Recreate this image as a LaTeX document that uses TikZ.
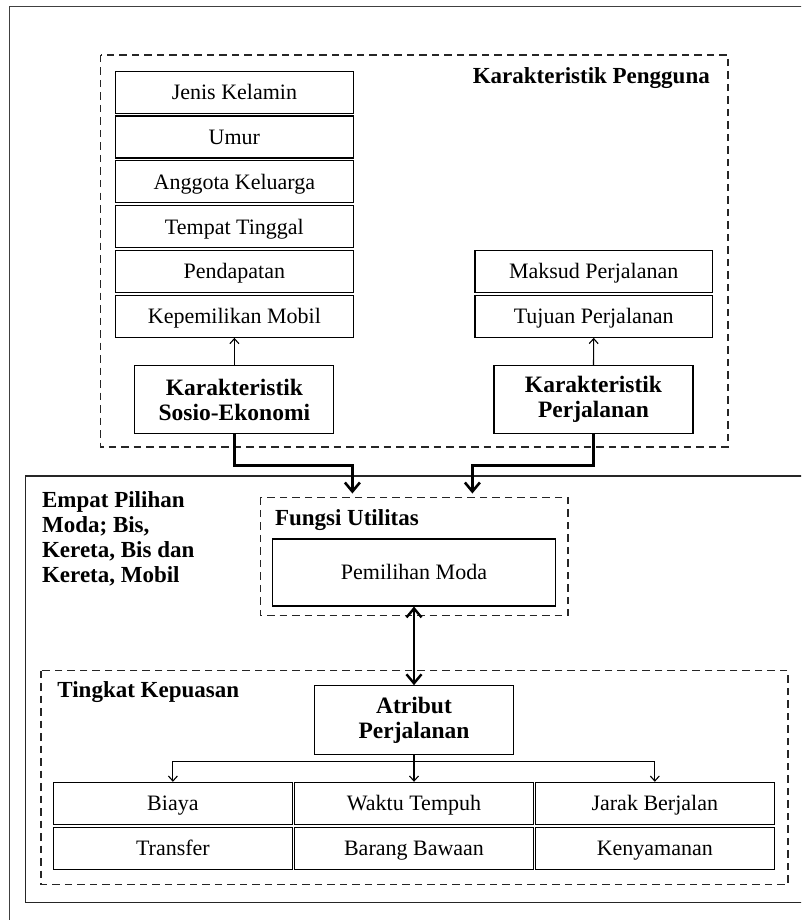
\documentclass[tikz,border=0pt]{standalone}
\usepackage{fontspec}
\setmainfont{Liberation Serif}
\usetikzlibrary{arrows.meta,calc}
\begin{document}
\begin{tikzpicture}[x=1pt,y=-1pt,
  box/.style={draw=black,line width=1.1pt,fill=white,inner sep=0pt,align=center,font=\fontsize{22}{25}\selectfont},
  bbox/.style={box,font=\fontsize{23.5}{25}\selectfont\bfseries},
  one/.style={text height=16pt,text depth=1.4pt},
  lstack/.style={box,one,minimum width=238pt,minimum height=42pt},
  cell/.style={box,one,minimum width=238.5pt,minimum height=41.7pt},
  dbox/.style={draw=black!85,line width=1.4pt,dash pattern=on 7.5pt off 5pt},
  frame/.style={draw=black!75,line width=1.2pt},
  lbl/.style={font=\fontsize{23}{25}\selectfont\bfseries,inner sep=0pt},
  thinarr/.style={line width=1.1pt,-{Straight Barb[length=5pt,width=9pt]}},
  thickarr/.style={line width=2.6pt,-{Straight Barb[length=9pt,width=15pt]}},
  dblarr/.style={line width=2.4pt,{Straight Barb[length=9pt,width=15pt]}-{Straight Barb[length=9pt,width=15pt]}}
]
\useasboundingbox (0,0) rectangle (801,920);
\begin{scope}
\clip (0,0) rectangle (801,920);
% outer frame and lower solid box
\draw[frame] (9.2,6.7) rectangle (820,940);
\draw[frame,draw=black!85] (25.5,476) rectangle (815,902.3);
\end{scope}

% top dashed container
\draw[dbox] (100.6,55) rectangle (727.8,447);
\node[lbl,anchor=east] (kp) at (710,78) {Karakteristik Pengguna};

% left stack
\node[lstack] (jk) at (234.4,92.2) {Jenis Kelamin};
\node[lstack] (um) at (234.4,137) {Umur};
\node[lstack] (ak) at (234.4,181.9) {Anggota Keluarga};
\node[lstack] (tt) at (234.4,226.9) {Tempat Tinggal};
\node[lstack] (pd) at (234.4,271.5) {Pendapatan};
\node[lstack] (km) at (234.4,316.3) {Kepemilikan Mobil};

% right stack
\node[lstack,minimum width=237.5pt] (mp) at (593.7,271.5) {Maksud Perjalanan};
\node[lstack,minimum width=237.5pt] (tp) at (593.7,316.3) {Tujuan Perjalanan};

% characteristic boxes
\node[bbox,minimum width=199pt,minimum height=67.6pt] (se) at (234.4,399.5) {Karakteristik\\Sosio-Ekonomi};
\node[bbox,minimum width=199pt,minimum height=67.6pt] (kj) at (593.5,399.5) {Karakteristik\\Perjalanan};

\draw[thinarr] (se.north) -- (km.south);
\draw[thinarr] (kj.north) -- (tp.south);

% Fungsi Utilitas
\draw[dbox] (260.5,497.3) rectangle (568,615.7);
\node[lbl,anchor=west] (fu) at (274.8,520) {Fungsi Utilitas};
\node[box,one,minimum width=283.5pt,minimum height=67pt] (pm) at (414,572.5) {Pemilihan Moda};

\coordinate (inL) at (352.4,493.5);
\coordinate (inR) at (472.4,493.5);
\draw[thickarr] (se.south) -- ++(0,31.7) -| (inL);
\draw[thickarr] (kj.south) -- ++(0,31.7) -| (inR);

% Empat pilihan label
\node[lbl,anchor=north west,align=left] (emp) at (41.9,491) {Empat Pilihan\\Moda; Bis,\\Kereta, Bis dan\\Kereta, Mobil};

% Tingkat Kepuasan
\draw[dbox] (40.9,670.7) rectangle (788,884.3);
\node[lbl,anchor=west] (tk) at (57.2,691.7) {Tingkat Kepuasan};
\node[bbox,minimum width=198.7pt,minimum height=68.6pt] (atr) at (414,720) {Atribut\\Perjalanan};

\draw[dblarr] (pm.south) -- (atr.north);

% bottom grid
\node[cell] (bi) at (172.9,803.2) {Biaya};
\node[cell] (wt) at (414,803.2) {Waktu Tempuh};
\node[cell] (jb) at (654.8,803.2) {Jarak Berjalan};
\node[cell] (tr) at (172.9,848.2) {Transfer};
\node[cell] (bb) at (414,848.2) {Barang Bawaan};
\node[cell] (ky) at (654.8,848.2) {Kenyamanan};

\draw[thinarr] (atr.south) -- (wt.north);
\draw[thinarr] (atr.south) ++(0,6.5) -| (bi.north);
\draw[thinarr] (atr.south) ++(0,6.5) -| (jb.north);
\end{tikzpicture}
\end{document}
